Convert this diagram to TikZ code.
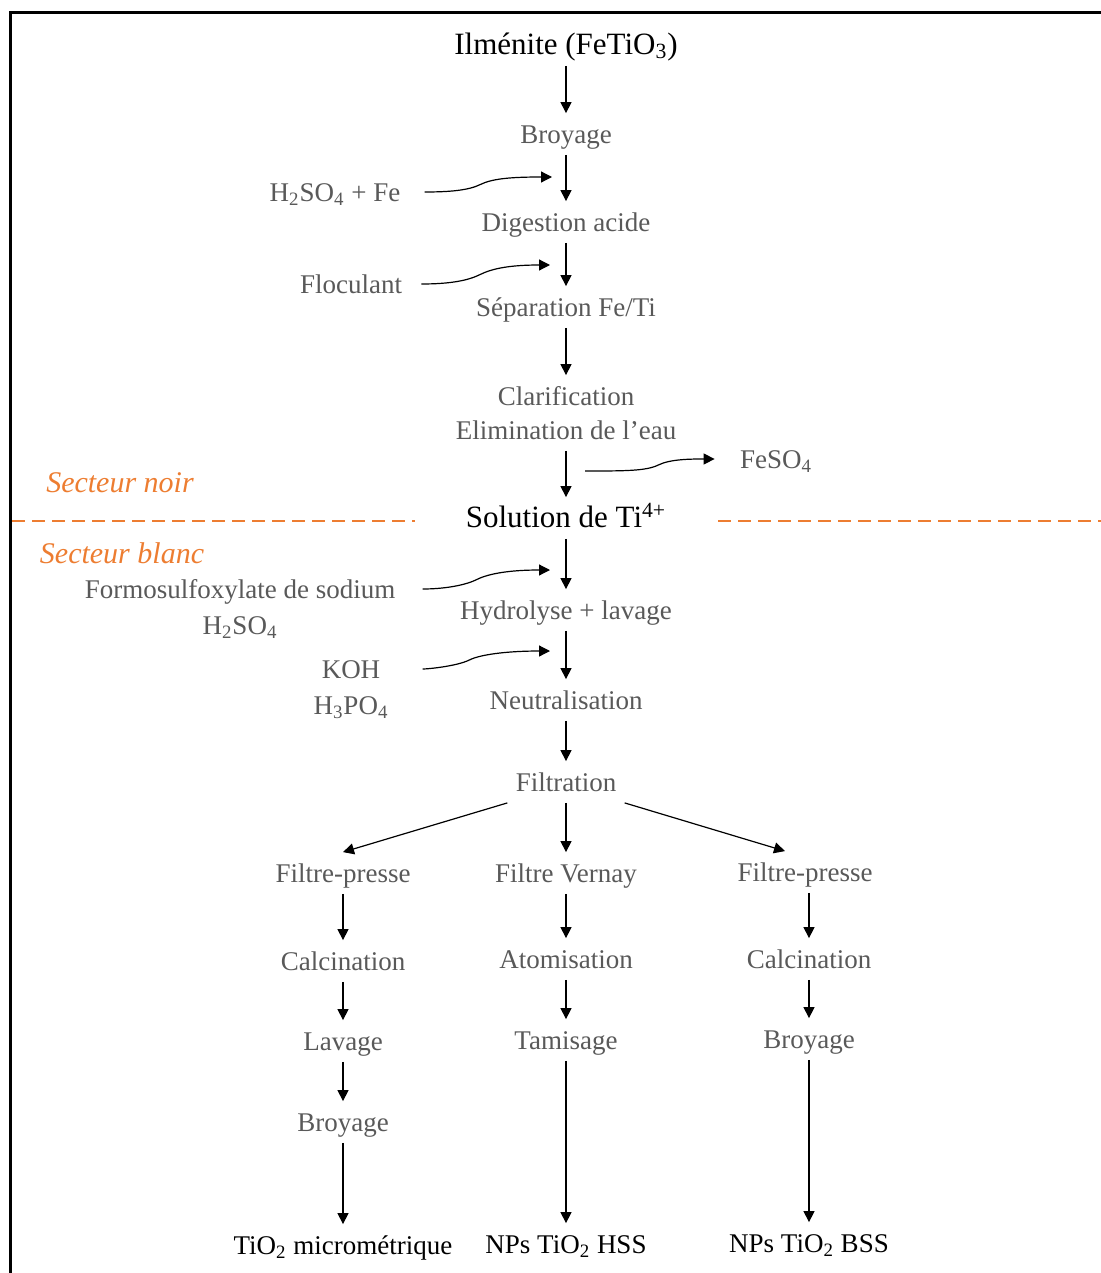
\documentclass[tikz,border=0pt]{standalone}
\usepackage{fontspec}
\setmainfont{Liberation Serif}
\usetikzlibrary{arrows.meta,calc}

\definecolor{stepgray}{HTML}{595959}
\definecolor{sectorange}{HTML}{ED7D31}

\tikzset{
  etape/.style={text=stepgray, font=\fontsize{13.5}{16}\selectfont,
    text height=11pt, text depth=1.5pt, inner sep=4pt},
  titre/.style={etape, text=black, font=\fontsize{15.5}{18}\selectfont},
  produit/.style={etape, text=black},
  flow/.style={-{Triangle[length=5.5pt,width=5.5pt]}, line width=0.6pt},
  feed/.style={flow, to path={.. controls +(40,0) and +(-12,6) ..
      ($(\tikztostart)!0.5!(\tikztotarget)$) .. controls +(12,-6) and +(-40,0) ..
      (\tikztotarget) \tikztonodes}},
  sectlabel/.style={text=sectorange, font=\fontsize{15}{18}\selectfont\itshape},
  sectline/.style={draw=sectorange, line width=1pt, dash pattern=on 6.5pt off 3.5pt}
}

\begin{document}
\begin{tikzpicture}[x=0.5pt, y=-0.5pt]
  \useasboundingbox (0,0) rectangle (1101,1273);
  % Frame
  \draw[line width=1.5pt] (1101,12.5) -- (10.5,12.5) -- (10.5,1273);

  % Define nodes
  \node[titre] (ilmenite) at (566,45) {Ilménite (FeTiO\textsubscript{3})};
  \node[etape] (broyage) at (566,134) {Broyage};
  \node[etape] (digestion) at (566,222) {Digestion acide};
  \node[etape] (separation) at (566,307) {Séparation Fe/Ti};
  \node[etape] (clarif) at (566,396) {Clarification};
  \node[etape] (elim) at (566,430) {Elimination de l’eau};
  \node[titre] (solution) at (566,518) {Solution de Ti\textsuperscript{4+}};
  \node[etape] (hydrolyse) at (566,610) {Hydrolyse + lavage};
  \node[etape] (neutral) at (566,700) {Neutralisation};
  \node[etape] (filtration) at (566,782) {Filtration};

  % Reagents and by-products
  \node[etape] (acidefe) at (335,192) {H\textsubscript{2}SO\textsubscript{4} + Fe};
  \node[etape] (floculant) at (351,284) {Floculant};
  \node[etape] (feso) at (776,459) {FeSO\textsubscript{4}};
  \node[etape] (formo) at (240,589) {Formosulfoxylate de sodium};
  \node[etape] (acide) at (240,625) {H\textsubscript{2}SO\textsubscript{4}};
  \node[etape] (koh) at (351,669) {KOH};
  \node[etape] (phos) at (351,705) {H\textsubscript{3}PO\textsubscript{4}};

  % Three branches
  \node[etape] (fpa) at (343,873) {Filtre-presse};
  \node[etape] (calca) at (343,961) {Calcination};
  \node[etape] (lavage) at (343,1041) {Lavage};
  \node[etape] (broya) at (343,1122) {Broyage};
  \node[produit] (micro) at (343,1245) {TiO\textsubscript{2} micrométrique};

  \node[etape] (vernay) at (566,873) {Filtre Vernay};
  \node[etape] (atomis) at (566,959) {Atomisation};
  \node[etape] (tamis) at (566,1040) {Tamisage};
  \node[produit] (hss) at (566,1244) {NPs TiO\textsubscript{2} HSS};

  \node[etape] (fpb) at (805,872) {Filtre-presse};
  \node[etape] (calcb) at (809,959) {Calcination};
  \node[etape] (broyb) at (809,1039) {Broyage};
  \node[produit] (bss) at (809,1243) {NPs TiO\textsubscript{2} BSS};

  % Sectors
  \node[sectlabel] (noir) at (120,483) {Secteur noir};
  \node[sectlabel] (blanc) at (122,553) {Secteur blanc};
  \draw[sectline] (12,521) -- (415,521);
  \draw[sectline] (718,521) -- (1101,521);

  % Inlets of the side arrows
  \coordinate (ina) at (552,177);
  \coordinate (inb) at (550,265);
  \coordinate (outa) at (585,471);
  \coordinate (inc) at (550,570);
  \coordinate (ind) at (550,651);

  % Connect the nodes
  \draw[flow] (ilmenite) -- (broyage);
  \draw[flow] (broyage) -- (digestion);
  \draw[flow] (digestion) -- (separation);
  \draw[flow] (separation) -- (clarif);
  \draw[flow] (elim) -- (solution);
  \draw[flow] (solution) -- (hydrolyse);
  \draw[flow] (hydrolyse) -- (neutral);
  \draw[flow] (neutral) -- (filtration);

  \draw[feed, shorten <=8pt] (acidefe.east) to (ina);
  \draw[feed, shorten <=5.5pt] (floculant.east) to (inb);
  \draw[feed, shorten >=8.5pt] (outa) to (feso.west);
  \draw[feed, shorten <=9.5pt] (formo.east) to (inc);
  \draw[feed, shorten <=17pt] (koh.east) to (ind);

  \draw[flow] (filtration.south west) -- (fpa.north);
  \draw[flow] (filtration) -- (vernay);
  \draw[flow] (filtration.south east) -- ([xshift=-10pt]fpb.north);

  \draw[flow] (fpa) -- (calca);
  \draw[flow] (calca) -- (lavage);
  \draw[flow] (lavage) -- (broya);
  \draw[flow] (broya) -- (micro);

  \draw[flow] (vernay) -- (atomis);
  \draw[flow] (atomis) -- (tamis);
  \draw[flow] (tamis) -- (hss);

  \draw[flow] (fpb.south -| calcb) -- (calcb);
  \draw[flow] (calcb) -- (broyb);
  \draw[flow] (broyb) -- (bss);
\end{tikzpicture}
\end{document}
